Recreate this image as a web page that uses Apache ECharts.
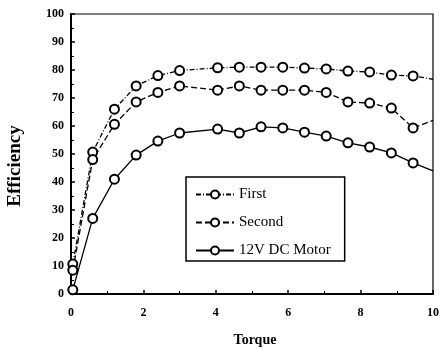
<!DOCTYPE html>
<html>
<head>
<meta charset="utf-8">
<script src="https://cdn.jsdelivr.net/npm/echarts@6/dist/echarts.min.js"></script>
<style>
  html, body { margin: 0; padding: 0; background: #fff; }
  #chart { width: 441px; height: 349px; }
</style>
</head>
<body>
<div id="chart"></div>
<script>
// Torque sample points (last one is the curve end, no marker)
const torque = [0.05, 0.6, 1.2, 1.8, 2.4, 3.0, 4.05, 4.65, 5.25, 5.85, 6.45, 7.05, 7.65, 8.25, 8.85, 9.45, 10];
const firstEff = [10.7, 50.7, 66, 74.3, 78, 79.8, 80.8, 81, 81, 81, 80.7, 80.4, 79.6, 79.3, 78.2, 77.9, 76.7];
const secondEff = [8.5, 48, 60.6, 68.6, 72, 74.3, 72.8, 74.3, 72.8, 72.8, 72.8, 72, 68.6, 68.2, 66.4, 59.3, 62];
const motorEff = [1.5, 27, 41, 49.6, 54.6, 57.5, 58.9, 57.5, 59.7, 59.3, 57.8, 56.4, 54, 52.5, 50.4, 46.8, 44];
const seriesNames = ['First', 'Second', '12V DC Motor'];
const xTicks = [0, 2, 4, 6, 8, 10];

const serif = '"Liberation Serif", "DejaVu Serif", serif';

function pairs(ys) {
  return torque.map((x, i) => {
    const item = { value: [x, ys[i]] };
    if (i === torque.length - 1) item.symbol = 'none';
    return item;
  });
}

function lineSeries(name, ys, dash) {
  return {
    name: name,
    type: 'line',
    data: pairs(ys),
    symbol: 'circle',
    symbolSize: 9,
    showAllSymbol: true,
    itemStyle: { color: '#fff', borderColor: '#000', borderWidth: 2 },
    lineStyle: { color: '#000', width: 1.3, type: dash },
    emphasis: { disabled: true },
    animation: false
  };
}

const chart = echarts.init(document.getElementById('chart'), null, { renderer: 'canvas' });
chart.setOption({
  backgroundColor: '#fff',
  animation: false,
  grid: {
    left: 71, right: 8, top: 14, bottom: 55,
    outerBoundsMode: 'none',
    show: true, borderColor: '#000', borderWidth: 1.2, backgroundColor: 'transparent'
  },
  legend: {
    orient: 'vertical',
    left: 186, top: 177,
    width: 161,
    padding: [10, 14, 3, 9],
    itemWidth: 38, itemHeight: 10, itemGap: 13,
    backgroundColor: '#fff',
    borderColor: '#000', borderWidth: 1.5,
    textStyle: { fontFamily: serif, fontSize: 15, color: '#000' },
    data: seriesNames
  },
  xAxis: {
    type: 'value',
    min: 0, max: 10, interval: 2,
    name: 'Torque',
    nameLocation: 'middle',
    nameGap: 39,
    nameTextStyle: { fontFamily: serif, fontWeight: 'bold', fontSize: 14, color: '#000', padding: [0, 0, 0, 6] },
    axisLine: { lineStyle: { color: '#000', width: 2 } },
    axisTick: { inside: true, length: 4, lineStyle: { color: '#000', width: 1.5 } },
    minorTick: { show: true, splitNumber: 2, length: 3, lineStyle: { color: '#000' } },
    axisLabel: {
      fontFamily: serif, fontWeight: 'bold', fontSize: 12, color: '#000', margin: 13,
      formatter: v => xTicks.includes(v) ? String(v) : ''
    },
    splitLine: { show: false }
  },
  yAxis: {
    type: 'value',
    min: 0, max: 100, interval: 10,
    name: 'Efficiency',
    nameLocation: 'middle',
    nameGap: 46,
    nameTextStyle: { fontFamily: serif, fontWeight: 'bold', fontSize: 19, color: '#000', padding: [0, 24, 0, 0] },
    axisLine: { show: true, lineStyle: { color: '#000', width: 2 } },
    axisTick: { inside: true, length: 4, lineStyle: { color: '#000', width: 1.5 } },
    minorTick: { show: true, splitNumber: 2, length: 3, lineStyle: { color: '#000' } },
    axisLabel: { fontFamily: serif, fontWeight: 'bold', fontSize: 12, color: '#000', margin: 7 },
    splitLine: { show: false }
  },
  series: [
    lineSeries(seriesNames[0], firstEff, [5, 2, 1, 2]),
    lineSeries(seriesNames[1], secondEff, [6, 3]),
    lineSeries(seriesNames[2], motorEff, 'solid')
  ]
});
</script>
</body>
</html>
